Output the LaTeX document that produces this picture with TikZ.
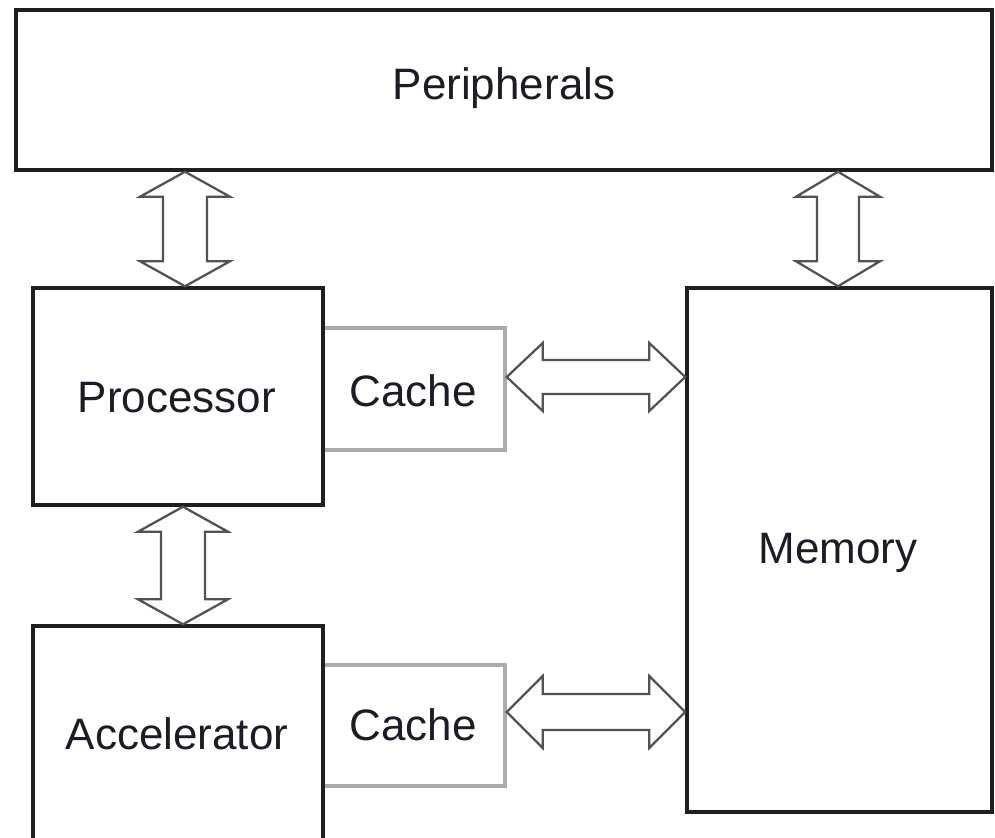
\documentclass[tikz,border=0pt]{standalone}
\usepackage{fontspec}
\setmainfont{Liberation Sans}
\usetikzlibrary{calc}
\definecolor{txt}{HTML}{1C1C24}
\tikzset{
  box/.style={draw=black!88, line width=2.6pt, inner sep=0pt, text=txt, font=\fontsize{33}{40}\selectfont},
  cachebox/.style={draw=black!33, line width=2.6pt, inner sep=0pt, text=txt, font=\fontsize{33}{40}\selectfont},
  lbl/.style={text=txt, font=\fontsize{33}{40}\selectfont},
  arr/.style={draw=black!68, line width=1.7pt, line join=miter},
}
\newcommand\vdarr[4]{%
  \draw[arr] (#1) -- ($(#1)+(-#3,25)$) -- ($(#1)+(-#4,25)$) -- ($(#2)+(-#4,-25)$) -- ($(#2)+(-#3,-25)$) -- (#2)
   -- ($(#2)+(#3,-25)$) -- ($(#2)+(#4,-25)$) -- ($(#1)+(#4,25)$) -- ($(#1)+(#3,25)$) -- cycle;}
\newcommand\hdarr[4]{%
  \draw[arr] (#1) -- ($(#1)+(36,-#3)$) -- ($(#1)+(36,-#4)$) -- ($(#2)+(-36,-#4)$) -- ($(#2)+(-36,-#3)$) -- (#2)
   -- ($(#2)+(-36,#3)$) -- ($(#2)+(-36,#4)$) -- ($(#1)+(36,#4)$) -- ($(#1)+(36,#3)$) -- cycle;}
\begin{document}
\begin{tikzpicture}[x=0.75pt,y=-0.75pt]
\useasboundingbox (0,0) rectangle (995,838);
\clip (0,0) rectangle (995,838);
% cache boxes (under the main boxes)
\node[cachebox, minimum width=182*0.75pt, minimum height=122*0.75pt] (cache1) at (414,389) {};
\node[lbl] (cache1t) at (413,391) {Cache};
\node[cachebox, minimum width=182*0.75pt, minimum height=121*0.75pt] (cache2) at (414,725.5) {};
\node[lbl] (cache2t) at (413,725) {Cache};
% main boxes
\node[box, minimum width=976*0.75pt, minimum height=160*0.75pt] (periph) at (504,90) {};
\node[lbl] (periphT) at (504,88) {Peripherals};
\node[box, minimum width=290*0.75pt, minimum height=217*0.75pt] (proc) at (178,396.5) {};
\node[lbl] (procT) at (177,398) {Processor};
\node[box, minimum width=290*0.75pt, minimum height=219*0.75pt] (accel) at (178,735.5) {};
\node[lbl] (accelt) at (177,734) {Accelerator};
\node[box, minimum width=305*0.75pt, minimum height=524*0.75pt] (mem) at (839.5,550) {};
\node[lbl] (memT) at (838,553) {Memory};
% helper coordinates
\coordinate (x185) at (185,0);
\coordinate (x183) at (183,0);
\coordinate (x838) at (838,0);
\coordinate (y377) at (0,377);
\coordinate (y712) at (0,712);
\coordinate (v1t) at (periph.south -| x185);
\coordinate (v1b) at (proc.north -| x185);
\coordinate (v2t) at (proc.south -| x183);
\coordinate (v2b) at (accel.north -| x183);
\coordinate (v3t) at (periph.south -| x838);
\coordinate (v3b) at (mem.north -| x838);
\coordinate (h1l) at (cache1.east |- y377);
\coordinate (h1r) at (mem.west |- y377);
\coordinate (h2l) at (cache2.east |- y712);
\coordinate (h2r) at (mem.west |- y712);
% connectors
\vdarr{v1t}{v1b}{45}{22}
\vdarr{v2t}{v2b}{45}{22}
\vdarr{v3t}{v3b}{42}{21}
\hdarr{h1l}{h1r}{34}{17}
\hdarr{h2l}{h2r}{36}{18}
\end{tikzpicture}
\end{document}
